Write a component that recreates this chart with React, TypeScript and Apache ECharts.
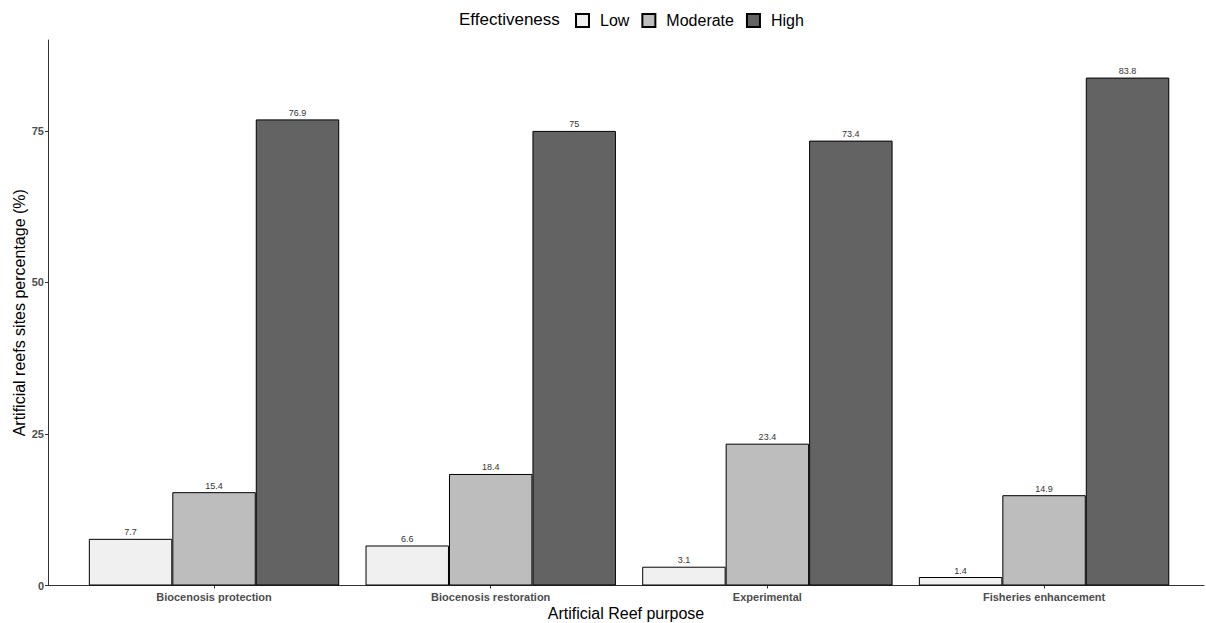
import React, { useEffect, useRef } from "react";
import * as echarts from "echarts";

const categories = ["Biocenosis protection", "Biocenosis restoration", "Experimental", "Fisheries enhancement"];
const lowValues = [7.7, 6.6, 3.1, 1.4];
const moderateValues = [15.4, 18.4, 23.4, 14.9];
const highValues = [76.9, 75, 73.4, 83.8];
const yTicks = [0, 25, 50, 75];

const FONT = "'Liberation Sans', Arial, Helvetica, sans-serif";

export default function App() {
  const ref = useRef<HTMLDivElement>(null);
  useEffect(() => {
    if (!ref.current) return;
    const chart = echarts.init(ref.current, null, { renderer: "svg" });
    const barLabel = { show: true, position: "top", distance: 2, fontSize: 9, color: "#333", fontFamily: FONT };
    const mk = (name: string, data: number[], color: string) => ({
      name,
      type: "bar",
      xAxisIndex: 1,
      yAxisIndex: 1,
      data,
      barGap: "0%",
      barCategoryGap: "9.5%",
      itemStyle: { color, borderColor: "#000", borderWidth: 1 },
      label: barLabel,
    });
    chart.setOption({
      animation: false,
      backgroundColor: "#fff",
      textStyle: { fontFamily: FONT },
      graphic: [
        {
          type: "text",
          left: 459,
          top: 11,
          style: { text: "Effectiveness", fontSize: 17, fill: "#000", fontFamily: FONT },
        },
      ],
      legend: {
        left: 575,
        top: 12.5,
        padding: 0,
        itemWidth: 13,
        itemHeight: 13,
        itemGap: 12,
        icon: "rect",
        textStyle: { fontSize: 16, color: "#000", fontFamily: FONT, padding: [0, 0, 0, 6] },
        data: ["Low", "Moderate", "High"],
      },
      grid: [
        { left: 48, right: 2, top: 40, bottom: 37.5, outerBoundsMode: "none" },
        { left: 75.7, right: 23.6, top: 40, bottom: 37.5, outerBoundsMode: "none" },
      ],
      xAxis: [
        {
          type: "value",
          gridIndex: 0,
          min: 0,
          max: 1,
          axisLine: { show: true, lineStyle: { color: "#333", width: 1 } },
          axisTick: { show: false },
          axisLabel: { show: false },
          splitLine: { show: false },
          name: "Artificial Reef purpose",
          nameLocation: "middle",
          nameGap: 20,
          nameMoveOverlap: false,
          nameTextStyle: { fontSize: 16, color: "#000", fontFamily: FONT },
        },
        {
          type: "category",
          gridIndex: 1,
          data: categories,
          axisLine: { show: false },
          axisTick: { show: true, alignWithLabel: true, length: 3, lineStyle: { color: "#333" } },
          axisLabel: { fontSize: 11, fontWeight: "bold", color: "#4d4d4d", margin: 6, fontFamily: FONT },
        },
      ],
      yAxis: [
        {
          type: "value",
          gridIndex: 0,
          min: 0,
          max: 90,
          axisLine: { show: true, lineStyle: { color: "#333", width: 1 } },
          axisTick: { show: true, length: 3, customValues: yTicks, lineStyle: { color: "#333" } },
          axisLabel: { fontSize: 11, fontWeight: "bold", color: "#4d4d4d", margin: 4, customValues: yTicks, fontFamily: FONT },
          splitLine: { show: false },
          name: "Artificial reefs sites percentage (%)",
          nameLocation: "middle",
          nameGap: 21,
          nameMoveOverlap: false,
          nameTextStyle: { fontSize: 16, color: "#000", fontFamily: FONT },
        },
        {
          type: "value",
          gridIndex: 1,
          min: 0,
          max: 90,
          show: false,
          splitLine: { show: false },
        },
      ],
      series: [
        mk("Low", lowValues, "#f0f0f0"),
        mk("Moderate", moderateValues, "#bdbdbd"),
        mk("High", highValues, "#636363"),
      ],
    });
    return () => chart.dispose();
  }, []);
  return <div ref={ref} style={{ width: 1206, height: 623, position: "absolute", left: 0, top: 0 }} />;
}
